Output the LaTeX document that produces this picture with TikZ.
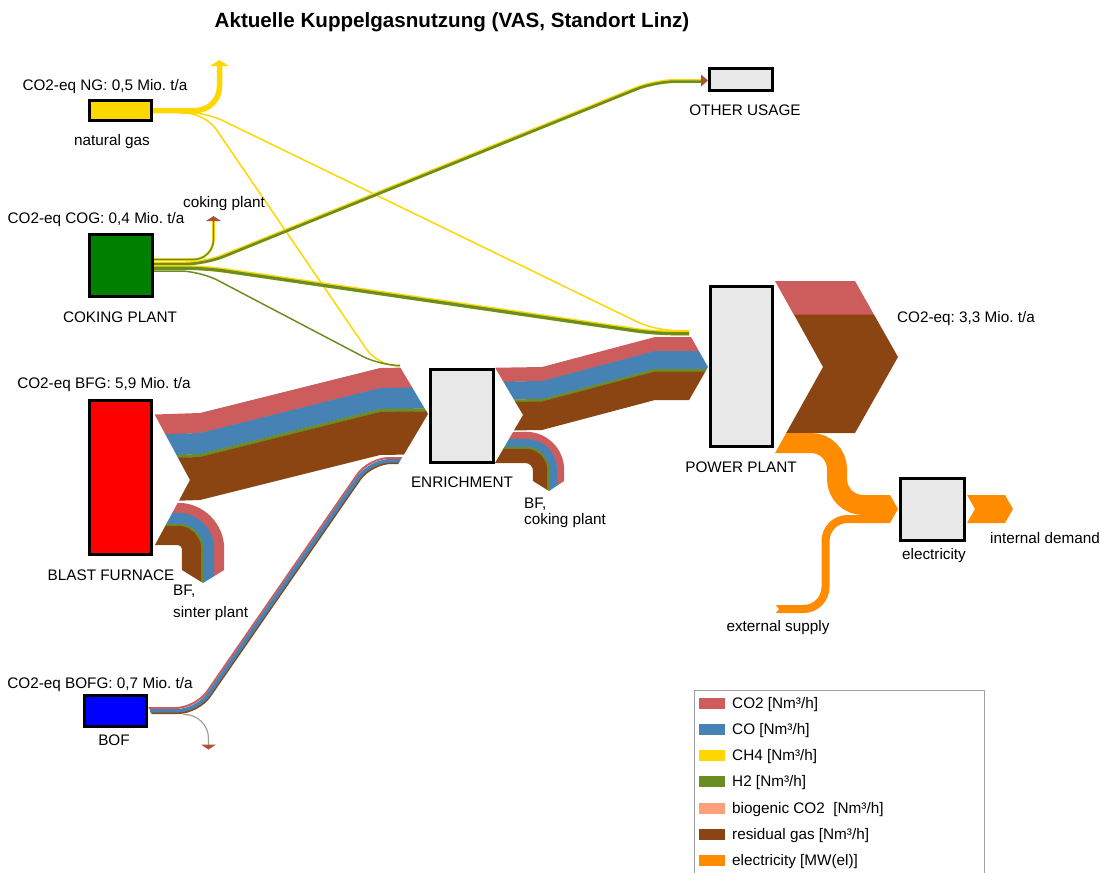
\documentclass[tikz,border=0pt]{standalone}
\usepackage{fontspec}
\setmainfont{Liberation Sans}
\definecolor{gasco2}{HTML}{CD5C5C}
\definecolor{gasco}{HTML}{4682B4}
\definecolor{gasch4}{HTML}{FFD700}
\definecolor{gash2}{HTML}{6B8E23}
\definecolor{gasbio}{HTML}{FFA07A}
\definecolor{gasres}{HTML}{8B4513}
\definecolor{power}{HTML}{FF8C00}
\definecolor{boxgrey}{HTML}{E8E8E8}
\definecolor{cokgreen}{HTML}{008000}
\definecolor{bfred}{HTML}{FF0000}
\definecolor{bofblue}{HTML}{0000FF}
\definecolor{legframe}{HTML}{A0A0A0}
\definecolor{lossgrey}{HTML}{A0A0A0}
\colorlet{tipcol}{gasco2!50!gasres}

% layer of the blast-furnace gas band (offsets #2..#3 below its top edge)
\newcommand\bflayer[3]{\fill[#1] (140,415+#2) -- (200,413+#2) -- (380,368+#2) -- (440,367+#2)
  -- (440,367+#3) -- (380,368+#3) -- (200,413+#3) -- (140,415+#3) -- cycle;}
% layer of the enriched gas band towards the power plant
\newcommand\enlayer[3]{\fill[#1] (480,368+#2) -- (542,367+#2) -- (655,337+#2) -- (720,337+#2)
  -- (720,337+#3) -- (655,337+#3) -- (542,367+#3) -- (480,368+#3) -- cycle;}
% layer of a band that turns from rightwards to downwards
% #1 colour, #2 start x, #3 centre x, #4 centre y, #5 radius, #6 width
\newcommand\turnlayer[6]{\draw[#1, line width=#6pt, rounded corners=#5pt]
  (#2,#4-#5) -- (#3+#5,#4-#5) -- (#3+#5,#4+60);}

\begin{document}
\frenchspacing
\begin{tikzpicture}[x=1pt,y=-1pt,
  box/.style={draw=black, line width=3pt, inner sep=0pt},
  lbl/.style={font=\fontsize{15.3}{18}\selectfont, inner sep=0pt, anchor=base},
  lblw/.style={lbl, anchor=base west},
  thin/.style={line width=1.5pt, rounded corners=20pt},
  swatch/.style={minimum width=26pt, minimum height=11pt, inner sep=0pt}]
\useasboundingbox (0,0) rectangle (1101,873);
\clip (0,0) rectangle (1101,873);

% ---------- title ----------
\node[font=\bfseries\fontsize{20.6}{24}\selectfont, anchor=base, inner sep=0pt] (title)
  at (452,27.4) {Aktuelle Kuppelgasnutzung (VAS, Standort Linz)};

% ---------- natural gas ----------
\draw[gasch4, line width=5.5pt, rounded corners=24pt] (152,110.5) -- (219.5,110.5) -- (219.5,65);
\fill[gasch4] (210,66) -- (229,66) -- (219.5,60) -- cycle;
\draw[gasch4, thin] (180,112) -- (205,112) -- (655,330.5) -- (689,330.5);
\draw[gasch4, thin] (180,113) -- (205,113) -- (378,366) -- (400,366);

% ---------- coke oven gas ----------
\draw[gasch4, line width=2.6pt, rounded corners=20pt] (152,259.5) -- (213.5,259.5) -- (213.5,220);
\draw[gash2, line width=1.4pt, rounded corners=20pt] (152,259.5) -- (213.5,259.5) -- (213.5,220);
\fill[tipcol] (206,221) -- (221,221) -- (213.5,216) -- cycle;
\draw[gasch4, line width=4pt, rounded corners=20pt] (152,263.5) -- (205,263.5) -- (655,81) -- (702,81);
\draw[gash2, line width=2.6pt, rounded corners=20pt, transform canvas={yshift=-0.6pt}]
  (152,263.5) -- (205,263.5) -- (655,81) -- (702,81);
\fill[tipcol] (701,74.5) -- (708,80.5) -- (701,86.5) -- cycle;
\draw[gasch4, line width=4.6pt, rounded corners=20pt] (152,267.5) -- (205,267.5) -- (655,333) -- (689,333);
\draw[gash2, line width=3.2pt, rounded corners=20pt, transform canvas={yshift=-0.7pt}]
  (152,267.5) -- (205,267.5) -- (655,333) -- (689,333);
\draw[gash2, thin] (152,271) -- (200,271) -- (380,365.5) -- (400,365.5);

% ---------- blast furnace gas ----------
\begin{scope}
  \clip (136,380) -- (378,330) -- (428,414) -- (377,500) -- (147,560) -- (190,480) -- cycle;
  \bflayer{gasco2}{0}{20.3}
  \bflayer{gasco}{20}{41.3}
  \bflayer{gash2}{41}{44.3}
  \bflayer{gasres}{44}{87}
\end{scope}
\begin{scope}
  \clip (190,480) -- (260,480) -- (260,548) -- (203,583) -- (182,570) -- (141.5,570) -- cycle;
  \turnlayer{gasco2}{140}{178}{549}{41}{10.4}
  \turnlayer{gasco}{140}{178}{549}{30.5}{11.4}
  \turnlayer{gash2}{140}{178}{549}{24}{2.4}
  \turnlayer{gasres}{140}{178}{549}{13.5}{19.4}
\end{scope}

% ---------- converter gas ----------
\begin{scope}
  \clip (0,330) -- (378,330) -- (428,414) -- (198,800) -- (0,800) -- cycle;
  \draw[gasres, line width=2pt, rounded corners=20pt, transform canvas={xshift=1.3pt, yshift=-2.5pt}]
    (150,710.5) -- (197,710.5) -- (370,460.5) -- (405,460.5);
  \draw[gasco2, line width=2pt, rounded corners=20pt, transform canvas={xshift=-1.3pt, yshift=2.5pt}]
    (150,710.5) -- (197,710.5) -- (370,460.5) -- (405,460.5);
  \draw[gasco, line width=3.6pt, rounded corners=20pt, transform canvas={xshift=0.15pt, yshift=-0.3pt}]
    (150,710.5) -- (197,710.5) -- (370,460.5) -- (405,460.5);
\end{scope}
\draw[lossgrey, line width=1.2pt, rounded corners=24pt] (183,714.5) -- (208.5,714.5) -- (208.5,745);
\fill[tipcol] (201,744.5) -- (216,744.5) -- (208.5,749.5) -- cycle;

% ---------- enriched gas ----------
\begin{scope}
  \clip (480,342) -- (670,300) -- (708,367) -- (668,437) -- (480,488) -- (523,415) -- cycle;
  \enlayer{gasco2}{0}{14.3}
  \enlayer{gasco}{14}{32.3}
  \enlayer{gash2}{32}{34.8}
  \enlayer{gasres}{34.5}{63}
\end{scope}
\begin{scope}
  \clip (523,415) -- (600,415) -- (600,457) -- (549,491) -- (533,481) -- (484.5,481) -- cycle;
  \turnlayer{gasco2}{480}{526}{470}{34.5}{7.4}
  \turnlayer{gasco}{480}{526}{470}{27}{8.4}
  \turnlayer{gash2}{480}{526}{470}{22}{2.4}
  \turnlayer{gasres}{480}{526}{470}{14}{14.4}
\end{scope}

% ---------- power plant outputs ----------
\fill[gasco2] (775,281) -- (855,281) -- (874.2,315) -- (794,315) -- cycle;
\fill[gasres] (794,314.6) -- (874,314.6) -- (898,357) -- (855,433) -- (786.2,433) -- (823,367) -- cycle;
\begin{scope}
  \clip (823,367) -- (882,367) -- (882,481) -- (898,509) -- (882,537) -- (760,537) -- (760,480) -- cycle;
  \draw[power, line width=20pt, rounded corners=26pt] (760,443) -- (837,443) -- (837,505) -- (905,505);
\end{scope}
\begin{scope}
  \clip (770,598) -- (779,609) -- (770,620) -- (770,640) -- (882,640) -- (882,537) -- (898,509)
    -- (882,481) -- (770,481) -- cycle;
  \draw[power, line width=8pt, rounded corners=22pt] (765,609) -- (825.5,609) -- (825.5,519) -- (905,519);
\end{scope}
\fill[power] (967,495) -- (1005,495) -- (1013,509) -- (1005,523) -- (967,523) -- (975,509) -- cycle;

% ---------- process boxes ----------
\node[box, fill=gasch4, minimum width=62pt, minimum height=20pt] (ng) at (120.5,110.5) {};
\node[box, fill=cokgreen, minimum width=63pt, minimum height=62pt] (cok) at (121,265.5) {};
\node[box, fill=bfred, minimum width=62pt, minimum height=154pt] (bf) at (120.5,477.5) {};
\node[box, fill=bofblue, minimum width=62pt, minimum height=31pt] (bof) at (115.5,711) {};
\node[box, fill=boxgrey, minimum width=63pt, minimum height=93pt] (enr) at (462,416) {};
\node[box, fill=boxgrey, minimum width=62pt, minimum height=160pt] (pp) at (741.5,366.5) {};
\node[box, fill=boxgrey, minimum width=64pt, minimum height=62pt] (el) at (932.5,509.5) {};
\node[box, fill=boxgrey, minimum width=63pt, minimum height=22pt] (ou) at (741,79.5) {};

% ---------- labels ----------
\node[lbl] (ngco2) at (105,90.5) {CO2-eq NG: 0,5 Mio. t/a};
\node[lbl] (nglbl) at (112,145) {natural gas};
\node[lbl] (cokco2) at (96,223.5) {CO2-eq COG: 0,4 Mio. t/a};
\node[lbl] (cokown) at (224,207.5) {coking plant};
\node[lbl] (coklbl) at (120,322.5) {COKING PLANT};
\node[lbl] (bfco2) at (104,388.5) {CO2-eq BFG: 5,9 Mio. t/a};
\node[lbl] (bflbl) at (111,580.5) {BLAST FURNACE};
\node[lblw] (sinter1) at (173,595) {BF,};
\node[lblw] (sinter2) at (173,617.5) {sinter plant};
\node[lbl] (enrlbl) at (462,487.5) {ENRICHMENT};
\node[lblw] (enrout1) at (524,508.5) {BF,};
\node[lblw] (enrout2) at (524,524.5) {coking plant};
\node[lbl] (oulbl) at (745,115.5) {OTHER USAGE};
\node[lbl] (pplbl) at (741,472.5) {POWER PLANT};
\node[lbl] (ppco2) at (966,322.5) {CO2-eq: 3,3 Mio. t/a};
\node[lbl] (ellbl) at (934,559.5) {electricity};
\node[lbl] (demand) at (1045,543.5) {internal demand};
\node[lbl] (supply) at (778,631.5) {external supply};
\node[lbl] (bofco2) at (100,688.5) {CO2-eq BOFG: 0,7 Mio. t/a};
\node[lbl] (boflbl) at (114,745.5) {BOF};

% ---------- legend ----------
\draw[legframe, line width=1pt] (694,690) rectangle (984,900);
\foreach \c/\t [count=\i] in {gasco2/{CO2 [Nm³/h]}, gasco/{CO [Nm³/h]}, gasch4/{CH4 [Nm³/h]},
    gash2/{H2 [Nm³/h]}, gasbio/{biogenic CO2\ \ [Nm³/h]}, gasres/{residual gas [Nm³/h]},
    power/{electricity [MW(el)]}} {
  \node[swatch, fill=\c] (sw\i) at (712,703+26.33*\i-26.33) {};
  \node[lblw] (lg\i) at (732,708+26.33*\i-26.33) {\t};
}
\end{tikzpicture}
\end{document}
